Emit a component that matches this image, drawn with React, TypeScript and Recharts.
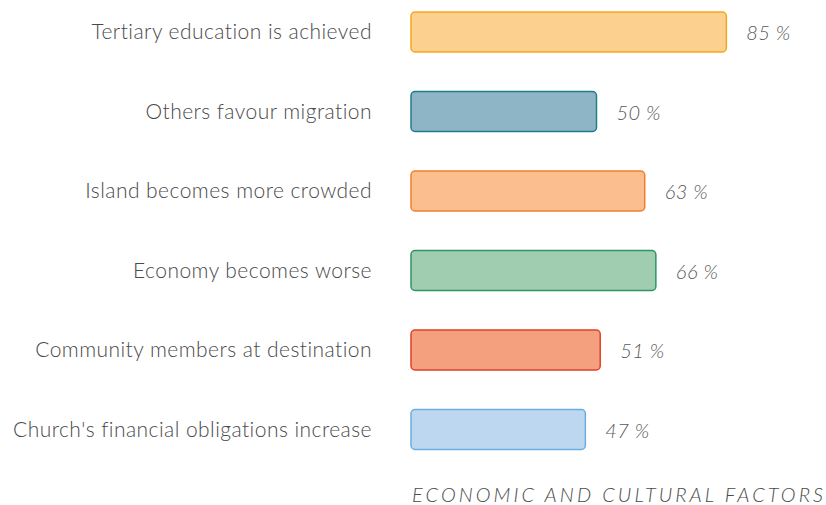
import React from "react";
import { BarChart, Bar, XAxis, YAxis, Cell, LabelList } from "recharts";

const categories = [
  "Tertiary education is achieved",
  "Others favour migration",
  "Island becomes more crowded",
  "Economy becomes worse",
  "Community members at destination",
  "Church's financial obligations increase",
];
const values = [85, 50, 63, 66, 51, 47];
const fills = ["#FCD18F", "#8DB5C5", "#FBBE8F", "#A0CDB0", "#F4A07E", "#BDD7F0"];
const strokes = ["#F2A81D", "#217C8C", "#F0802A", "#2E9466", "#E0402A", "#6AAEE0"];
const title = "ECONOMIC AND CULTURAL FACTORS";

const data = categories.map((c, i) => ({ name: c, value: values[i] }));

const FONT = "Lato, 'Open Sans', sans-serif";

const ValueLabel = (props: any) => {
  const { x, y, width, height, value } = props;
  return (
    <text
      x={x + width + 20}
      y={y + height / 2}
      dominantBaseline="central"
      fill="#5a5a5a"
      fontStyle="italic"
      fontWeight={300}
      fontSize={20}
      letterSpacing={0.4}
      fontFamily={FONT}
    >
      {value + " %"}
    </text>
  );
};

export default function App() {
  return (
    <div style={{ position: "absolute", left: 0, top: 0, width: 826, height: 505, overflow: "hidden", background: "#fff" }}>
      <div style={{ position: "absolute", left: 0, top: -8 }}>
        <BarChart
          width={826}
          height={480}
          data={data}
          layout="vertical"
          margin={{ top: 0, right: 44, bottom: 3, left: 0 }}
          barSize={40}
        >
          <XAxis type="number" domain={[0, 100]} hide />
          <YAxis
            type="category"
            dataKey="name"
            width={411}
            tickLine={false}
            axisLine={false}
            tickSize={0}
            tickMargin={39}
            tick={{ fill: "#4a4a4a", fontSize: 21, fontWeight: 300, fontFamily: FONT, letterSpacing: 0.45 }}
            interval={0}
          />
          <Bar dataKey="value" isAnimationActive={false} radius={4} strokeWidth={1.5}>
            {data.map((_, i) => (
              <Cell key={i} fill={fills[i]} stroke={strokes[i]} />
            ))}
            <LabelList dataKey="value" content={<ValueLabel />} />
          </Bar>
        </BarChart>
      </div>
      <div
        style={{
          position: "absolute",
          right: 0,
          top: 482,
          fontFamily: FONT,
          fontStyle: "italic",
          fontWeight: 300,
          fontSize: 20,
          letterSpacing: 3.05,
          color: "#4a4a4a",
          whiteSpace: "nowrap",
          lineHeight: "24px",
        }}
      >
        {title}
      </div>
    </div>
  );
}
